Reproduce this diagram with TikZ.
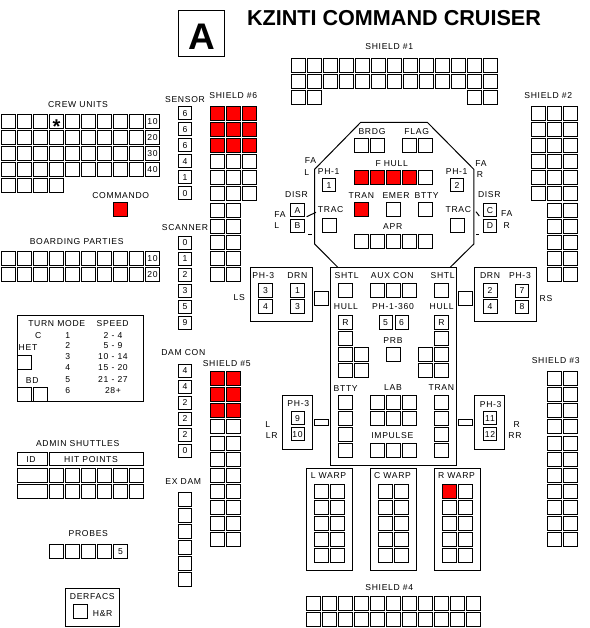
\documentclass[tikz,border=0pt]{standalone}
\usepackage{fontspec}
\setmainfont{Liberation Sans}
\newfontfamily\ssdfont[LetterSpace=8]{Liberation Sans}
\usetikzlibrary{positioning}

\begin{document}
\begin{tikzpicture}[
    x=1pt, y=-1pt, line width=1pt,
    lab/.style={inner sep=0pt, font=\ssdfont\fontsize{8.6}{10}\selectfont, text height=6pt, text depth=0pt},
    cell/.style={draw, minimum size=14pt, inner sep=0pt, outer sep=0pt, fill=white},
    hit/.style={cell, fill=red},
    num/.style={draw, minimum size=13pt, inner sep=0pt, outer sep=0pt, font=\ssdfont\fontsize{8.6}{10}\selectfont, text height=6pt, text depth=0pt},
    frame/.style={draw, inner sep=0pt, outer sep=0pt}
]
\useasboundingbox (0,0) rectangle (589,628);

\node[inner sep=0pt, font=\bfseries\fontsize{21.6}{24}\selectfont, text height=15pt, text depth=0pt] (title) at (394,18.5) {KZINTI COMMAND CRUISER};
\node[frame, minimum size=46pt, font=\bfseries\fontsize{37}{40}\selectfont, text height=33pt, text depth=0pt] (letter) at (201.5,33.5) {A};

\node[lab] (crewlab) at (78,104.7) {CREW UNITS};
\foreach \r in {0,...,3} \foreach \c in {0,...,8} \node[cell] (crew-\r-\c) at ({8.5+16*\c},{121.5+16*\r}) {};
\foreach \c in {0,...,3} \node[cell] (crew-4-\c) at ({8.5+16*\c},185.5) {};
\foreach \r/\t in {0/10,1/20,2/30,3/40} \node[num, minimum size=14pt] (crewnum-\r) at (152.5,{121.5+16*\r}) {\t};
\node[inner sep=0pt, font=\bfseries\fontsize{20}{20}\selectfont, text height=6pt, text depth=0pt] (star) at (56.5,130.5) {*};

\node[lab] (commandolab) at (120.7,195.7) {COMMANDO};
\node[hit] (commando) at (120.5,209.5) {};

\node[lab] (boardlab) at (76.7,241.7) {BOARDING PARTIES};
\foreach \r in {0,1} \foreach \c in {0,...,8} \node[cell] (board-\r-\c) at ({8.5+16*\c},{258.5+16*\r}) {};
\foreach \r/\t in {0/10,1/20} \node[num, minimum size=14pt] (boardnum-\r) at (152.5,{258.5+16*\r}) {\t};

\node[lab] (sensorlab) at (185,99.5) {SENSOR};
\foreach \r/\t in {0/6,1/6,2/6,3/4,4/1,5/0} \node[num] (sensor-\r) at (185,{113.5+16*\r}) {\t};
\node[lab] (scannerlab) at (185,227.7) {SCANNER};
\foreach \r/\t in {0/0,1/1,2/2,3/3,4/5,5/9} \node[num] (scanner-\r) at (185,{242.5+16*\r}) {\t};
\node[lab] (damlab) at (183.3,352.7) {DAM CON};
\foreach \r/\t in {0/4,1/4,2/2,3/2,4/2,5/0} \node[num] (dam-\r) at (185,{370.5+16*\r}) {\t};
\node[lab] (exlab) at (183.3,481.7) {EX DAM};
\foreach \r in {0,...,5} \node[num, minimum height=14pt] (ex-\r) at (185,{499+16*\r}) {};

\node[lab] (sh6lab) at (233.3,95.7) {SHIELD \#6};
\foreach \r in {0,1,2} \foreach \c in {0,1,2} \node[hit] (sh6-\r-\c) at ({217.5+16*\c},{113.5+16*\r}) {};
\foreach \r in {3,4,5} \foreach \c in {0,1,2} \node[cell] (sh6-\r-\c) at ({217.5+16*\c},{113.5+16*\r}) {};
\foreach \r in {6,...,10} \foreach \c in {0,1} \node[cell] (sh6-\r-\c) at ({217.5+16*\c},{114.5+16*\r}) {};

\node[lab] (sh5lab) at (226.7,363.7) {SHIELD \#5};
\foreach \r in {0,1,2} \foreach \c in {0,1} \node[hit] (sh5-\r-\c) at ({217.5+16*\c},{378.5+16*\r}) {};
\node[cell] (sh5-3-0) at (217.5,426.5) {};
\node[cell] (sh5-3-1) at (233.5,426.5) {};
\foreach \r in {4,...,10} \foreach \c in {0,1} \node[cell] (sh5-\r-\c) at ({217.5+16*\c},{379.5+16*\r}) {};

\node[lab] (sh1lab) at (389.3,46.7) {SHIELD \#1};
\foreach \r in {0,1} \foreach \c in {0,...,12} \node[cell] (sh1-\r-\c) at ({298.5+16*\c},{65.5+16*\r}) {};
\foreach \c in {0,1,11,12} \node[cell] (sh1-2-\c) at ({298.5+16*\c},97.5) {};

\node[lab] (sh2lab) at (548.3,95.7) {SHIELD \#2};
\foreach \r in {0,...,5} \foreach \c in {0,1,2} \node[cell] (sh2-\r-\c) at ({538.5+16*\c},{113.5+16*\r}) {};
\foreach \r in {6,...,10} \foreach \c in {1,2} \node[cell] (sh2-\r-\c) at ({538.5+16*\c},{114.5+16*\r}) {};

\node[lab] (sh3lab) at (555.7,360) {SHIELD \#3};
\foreach \r in {0,...,3} \foreach \c in {0,1} \node[cell] (sh3-\r-\c) at ({554.5+16*\c},{378.5+16*\r}) {};
\foreach \r in {4,...,10} \foreach \c in {0,1} \node[cell] (sh3-\r-\c) at ({554.5+16*\c},{379.5+16*\r}) {};

\node[lab] (sh4lab) at (389.3,587.7) {SHIELD \#4};
\foreach \r in {0,1} \foreach \c in {0,...,10} \node[cell] (sh4-\r-\c) at ({313.5+16*\c},{603.5+16*\r}) {};

\node[frame, minimum width=126.4pt, minimum height=86pt] (turn) at (80.5,358.7) {};
\node[lab] (turnlab) at (56.7,323.7) {TURN MODE};
\node[lab] (speedlab) at (112.7,323.7) {SPEED};
\node[lab] (clab) at (38.3,335) {C};
\foreach \y/\m/\s in {335/1/2 - 4,345.7/2/5 - 9,356.7/3/10 - 14,367.7/4/15 - 20,379/5/21 - 27,390.3/6/28+} {
    \node[lab] (mode-\m) at (67.7,\y) {\m};
    \node[lab] (speed-\m) at (113,\y) {\s};
}
\node[lab] (hetlab) at (28,347.7) {HET};
\node[cell] (het) at (24.5,362.5) {};
\node[lab] (bdlab) at (32.3,380) {BD};
\node[cell] (bd-0) at (24.5,394) {};
\node[cell] (bd-1) at (40.5,394) {};

\node[lab] (adminlab) at (77.7,443.7) {ADMIN SHUTTLES};
\node[frame, minimum width=30pt, minimum height=13pt] (idbox) at (32.5,459) {};
\node[frame, minimum width=94pt, minimum height=13pt] (hitbox) at (96.5,459) {};
\node[lab] (idlab) at (31,459.7) {ID};
\node[lab] (hitlab) at (91,459.7) {HIT POINTS};
\foreach \r in {0,1} {
    \node[frame, minimum width=30pt, minimum height=14pt] (shuttle-\r) at (32.5,{475.5+16*\r}) {};
    \foreach \c in {0,...,5} \node[cell] (hits-\r-\c) at ({56.5+16*\c},{475.5+16*\r}) {};
}

\node[lab] (probelab) at (88.3,533.7) {PROBES};
\foreach \c in {0,...,3} \node[cell] (probe-\c) at ({56.5+16*\c},551.5) {};
\node[num, minimum size=14pt] (probe-4) at (120.5,551.5) {5};

\node[frame, minimum width=54pt, minimum height=38.4pt] (derfacs) at (92.3,607.5) {};
\node[lab] (derlab) at (92.3,596.7) {DERFACS};
\node[cell] (hr) at (80.5,611.5) {};
\node[lab] (hrlab) at (102.7,613.3) {H\&R};

\coordinate (oct1) at (360.5,122.5);
\coordinate (oct2) at (427.5,122.5);
\coordinate (oct3) at (473.8,169.3);
\coordinate (oct4) at (473.8,244);
\coordinate (oct5) at (450,267.5);
\coordinate (oct6) at (338,267.5);
\coordinate (oct7) at (314.6,244);
\coordinate (oct8) at (314.6,169.3);
\draw (oct1) -- (oct2) -- (oct3) -- (oct4) -- (oct5) -- (oct6) -- (oct7) -- (oct8) -- cycle;
\node[frame, fill=white, minimum width=125.6pt, minimum height=198pt] (hull) at (393.5,366.5) {};

\node[lab] (brdglab) at (372,131.7) {BRDG};
\node[lab] (flaglab) at (416.7,131.7) {FLAG};
\foreach \x [count=\i] in {361.5,377.5,409.5,425.5} \node[cell] (crewdeck-\i) at (\x,145.5) {};
\node[lab] (fhulllab) at (391.7,163.3) {F HULL};
\foreach \c in {0,...,3} \node[hit] (fhull-\c) at ({361.5+16*\c},177.5) {};
\node[cell] (fhull-4) at (425.5,177.5) {};
\node[lab] (ph1llab) at (328.7,171.7) {PH-1};
\node[lab] (ph1rlab) at (456.7,171.7) {PH-1};
\node[num] (ph1l) at (329,185.5) {1};
\node[num] (ph1r) at (457,185.5) {2};
\node[lab] (tranlab) at (361.3,195.7) {TRAN};
\node[lab] (emerlab) at (396,195.7) {EMER};
\node[lab] (bttylab) at (426.7,195.7) {BTTY};
\node[hit] (tran) at (361.5,209.5) {};
\node[cell] (emer) at (393.5,209.5) {};
\node[cell] (btty) at (425.5,209.5) {};
\node[lab] (tracllab) at (330.7,209.3) {TRAC};
\node[lab] (tracrlab) at (458.3,209.3) {TRAC};
\node[cell] (tracl) at (329.5,225.5) {};
\node[cell] (tracr) at (457.5,225.5) {};
\node[lab] (aprlab) at (392.7,226.7) {APR};
\foreach \c in {0,...,4} \node[cell] (apr-\c) at ({361.5+16*\c},241.5) {};

\node[lab] (fall) at (310.5,161) {FA};
\node[lab] (ll) at (306.7,172.5) {L};
\node[lab] (farr) at (481,163.7) {FA};
\node[lab] (rr) at (480,175) {R};
\node[lab] (disrllab) at (296.5,194.5) {DISR};
\node[lab] (disrrlab) at (489.3,194.5) {DISR};
\node[num, minimum width=14pt] (disra) at (297.5,210) {A};
\node[num, minimum width=14pt] (disrb) at (297.5,226) {B};
\node[num] (disrc) at (490,210) {C};
\node[num] (disrd) at (490,226) {D};
\node[lab] (fal2) at (280,214) {FA};
\node[lab] (l2) at (276.7,225) {L};
\node[lab] (far2) at (506.7,213.3) {FA};
\node[lab] (r2) at (506.7,225) {R};
\coordinate (tickl) at (306.7,216.7);
\coordinate (tickla) at (316,212.3);
\coordinate (tickr) at (476,211.7);
\coordinate (tickra) at (479.3,216);
\coordinate (dashl) at (308.3,234);
\coordinate (dashla) at (312,234);
\coordinate (dashr) at (476,234);
\coordinate (dashra) at (479.3,234);
\draw (tickl) -- (tickla);
\draw (tickr) -- (tickra);
\draw (dashl) -- (dashla);
\draw (dashr) -- (dashra);

\node[frame, minimum width=62pt, minimum height=53.6pt] (lsbox) at (281.7,294.5) {};
\node[lab] (lslab) at (239.3,297.7) {LS};
\node[lab] (ph3alab) at (263.3,275) {PH-3};
\node[lab] (drnalab) at (297.3,275) {DRN};
\node[num, minimum size=14pt] (ph3-3) at (265.5,290.5) {3};
\node[num, minimum size=14pt] (ph3-4) at (265.5,306.5) {4};
\node[num, minimum size=14pt] (drn-1) at (297.5,290.5) {1};
\node[num, minimum size=14pt] (drn-3) at (297.5,306.5) {3};
\node[cell] (lslink) at (321.5,298.5) {};

\node[frame, minimum width=62pt, minimum height=53.6pt] (rsbox) at (505.7,294.5) {};
\node[lab] (rslab) at (546,298.3) {RS};
\node[lab] (drnblab) at (490,275) {DRN};
\node[lab] (ph3blab) at (520,275) {PH-3};
\node[num, minimum size=14pt] (drn-2) at (490,290.5) {2};
\node[num, minimum size=14pt] (drn-4) at (490,306.5) {4};
\node[num] (ph3-7) at (522,290.5) {7};
\node[num] (ph3-8) at (522,306.5) {8};
\node[cell] (rslink) at (465.5,298.5) {};

\node[frame, minimum width=30pt, minimum height=54pt] (lbox) at (297.7,422.3) {};
\node[lab] (lrlab1) at (267.7,424) {L};
\node[lab] (lrlab2) at (271.7,435) {LR};
\node[lab] (ph3clab) at (298.3,403.3) {PH-3};
\node[num] (ph3-9) at (297.5,418) {9};
\node[num] (ph3-10) at (297.5,434) {10};
\node[frame, minimum width=14pt, minimum height=6pt] (llink) at (321.5,422.5) {};

\node[frame, minimum width=30pt, minimum height=54pt] (rbox) at (489.7,422.3) {};
\node[lab] (rrlab1) at (516.7,424) {R};
\node[lab] (rrlab2) at (515,435) {RR};
\node[lab] (ph3dlab) at (490.7,404.7) {PH-3};
\node[num] (ph3-11) at (490,418) {11};
\node[num] (ph3-12) at (490,434) {12};
\node[frame, minimum width=14pt, minimum height=6pt] (rlink) at (465.5,422.5) {};

\node[lab] (shtlllab) at (346.7,275) {SHTL};
\node[lab] (auxlab) at (392.3,275) {AUX CON};
\node[lab] (shtlrlab) at (442.7,275) {SHTL};
\node[cell] (shtll) at (345.5,290.5) {};
\node[cell] (shtlr) at (441.5,290.5) {};
\foreach \c in {0,1,2} \node[cell] (aux-\c) at ({377.5+16*\c},290.5) {};
\node[lab] (hulllab) at (346,306.7) {HULL};
\node[lab] (ph360lab) at (393,306.7) {PH-1-360};
\node[lab] (hullrlab) at (441.7,306.7) {HULL};
\node[cell, font=\ssdfont\fontsize{8.6}{10}\selectfont] (hulll-0) at (345.5,322.5) {R};
\node[cell, font=\ssdfont\fontsize{8.6}{10}\selectfont] (hullr-0) at (441.5,322.5) {R};
\node[cell] (hulll-1) at (345.5,338.5) {};
\node[cell] (hullr-1) at (441.5,338.5) {};
\foreach \r in {2,3} {
    \node[cell] (hulll-\r) at (345.5,{322.5+16*\r}) {};
    \node[cell] (hulllx-\r) at (361.5,{322.5+16*\r}) {};
    \node[cell] (hullr-\r) at (441.5,{322.5+16*\r}) {};
    \node[cell] (hullrx-\r) at (425.5,{322.5+16*\r}) {};
}
\node[num, minimum height=14pt] (ph360-5) at (385.5,322.5) {5};
\node[num, minimum height=14pt] (ph360-6) at (401.5,322.5) {6};
\node[lab] (prblab) at (393,340.7) {PRB};
\node[cell] (prb) at (393.5,354.5) {};
\node[lab] (btty2lab) at (345.7,388.7) {BTTY};
\node[lab] (lablab) at (393,387.3) {LAB};
\node[lab] (tran2lab) at (441.3,387.7) {TRAN};
\foreach \r in {0,...,3} {
    \node[cell] (btty-\r) at (345.5,{402.5+16*\r}) {};
    \node[cell] (tran-\r) at (441.5,{402.5+16*\r}) {};
}
\foreach \r in {0,1} \foreach \c in {0,1,2} \node[cell] (lab-\r-\c) at ({377.5+16*\c},{402.5+16*\r}) {};
\node[lab] (implab) at (392.3,435.3) {IMPULSE};
\foreach \c in {0,1,2} \node[cell] (imp-\c) at ({377.5+16*\c},450.5) {};

\foreach \x/\t/\n in {329.5/L WARP/lw,393.5/C WARP/cw,457.5/R WARP/rw} {
    \node[frame, minimum width=46pt, minimum height=102pt] (\n box) at (\x,519.3) {};
    \node[lab] (\n lab) at ({\x-1},475.7) {\t};
    \foreach \r in {0,...,4} \foreach \c in {0,1} \node[cell] (\n-\r-\c) at ({\x-8+16*\c},{491.5+16*\r}) {};
}
\node[hit] (rw-hit) at (449.5,491.5) {};
\end{tikzpicture}
\end{document}
